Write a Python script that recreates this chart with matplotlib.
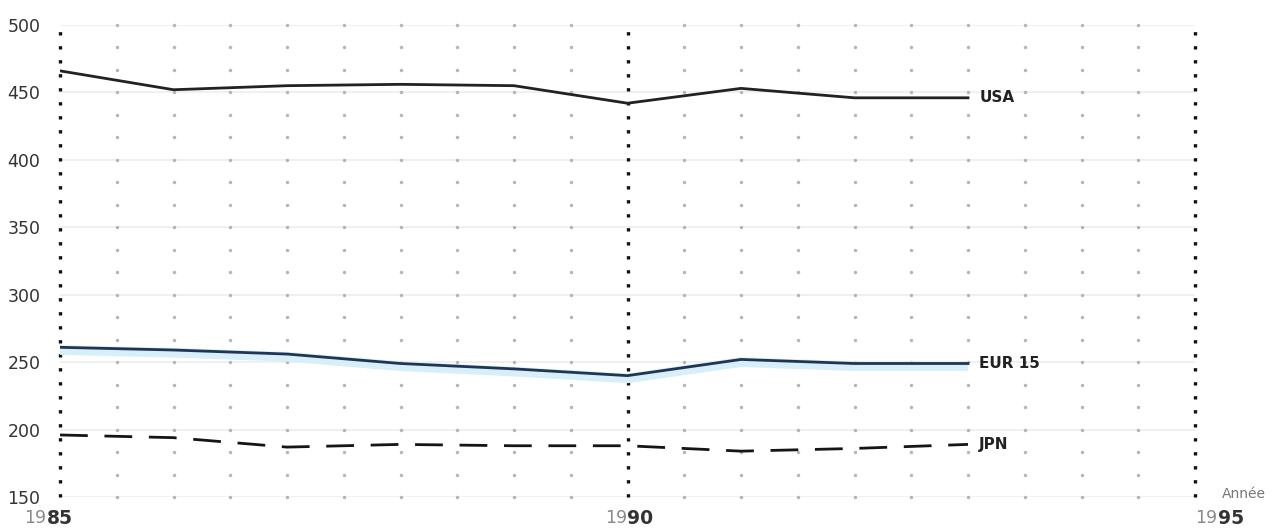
import numpy as np
import matplotlib.pyplot as plt

# data
years = [1985, 1986, 1987, 1988, 1989, 1990, 1991, 1992, 1993]
usa = [466, 452, 455, 456, 455, 442, 453, 446, 446]
eur15 = [261, 259, 256, 249, 245, 240, 252, 249, 249]
jpn = [196, 194, 187, 189, 188, 188, 184, 186, 189]
series_labels = ['USA', 'EUR 15', 'JPN']
yticks = [150, 200, 250, 300, 350, 400, 450, 500]
major_years = [1985, 1990, 1995]

fig = plt.figure(figsize=(12.82, 5.29), dpi=100)
ax = fig.add_axes([60/1282, 1-497/529, (1195-60)/1282, (497-25)/529])
ax.set_xlim(1985, 1995)
ax.set_ylim(150, 500)

#faint horizontal lines every 50
for y in yticks:
    ax.axhline(y, color='#eeeeee', lw=1.2, zorder=0)

#gray dot grid
cols = [x for x in np.arange(1985, 1995.01, 0.5) if x not in major_years]
rows = np.linspace(150, 500, 22)
gx, gy = np.meshgrid(cols, rows)
ax.scatter(gx.ravel(), gy.ravel(), s=6, color='#b4b4b4', marker='o', lw=0, zorder=1, clip_on=False)

#black dotted lines at major years
for x in major_years:
    ax.axvline(x, color='#111111', lw=2.4, linestyle=(0, (1, 3.2)), zorder=2, clip_on=False)

#series
ax.plot(years, [v - 2 for v in eur15], color='#d8eef9', lw=7, solid_capstyle='butt', zorder=3)
ax.plot(years, eur15, color='#1e3556', lw=2.0, zorder=4)
ax.plot(years, usa, color='#222222', lw=2.0, zorder=4)
ax.plot(years, jpn, color='#151515', lw=2.0, linestyle=(0, (10, 6)), zorder=4)

for vals, lab in zip([usa, eur15, jpn], series_labels):
    ax.text(years[-1] + 0.1, vals[-1], lab, fontsize=11, fontweight='bold',
            color='#222222', va='center', ha='left')

#axis styling
for s in ax.spines.values():
    s.set_visible(False)
ax.set_xticks([])
ax.set_yticks(yticks)
ax.set_yticklabels([str(v) for v in yticks], fontsize=12.5, color='#333333')
ax.tick_params(axis='y', length=0, pad=14)

#year labels: light "19" + bold last digits
label_split = [1984.88, 1990.0, 1995.2]
for yr, xs in zip(major_years, label_split):
    ax.text(xs, 141, str(yr)[:2], fontsize=12.5, color='#8a8a8a', ha='right', va='top')
    ax.text(xs, 141, str(yr)[2:], fontsize=13.5, fontweight='bold', color='#333333',
            ha='left', va='top')

ax.text(1995.24, 152, 'Année', fontsize=10, color='#777777', ha='left', va='center')

fig.savefig('out.png', dpi=100)
